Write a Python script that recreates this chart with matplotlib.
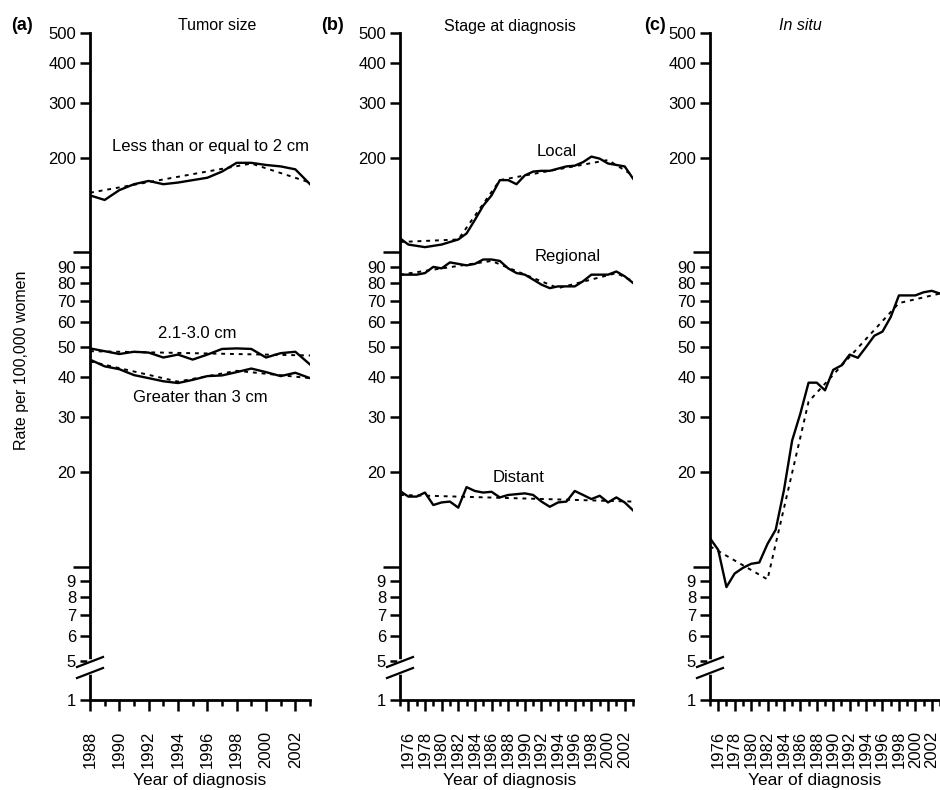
import numpy as np
import matplotlib
matplotlib.use('Agg')
import matplotlib.pyplot as plt
from matplotlib.lines import Line2D

plt.rcParams['font.family'] = ['Liberation Sans', 'DejaVu Sans']

W, H = 940, 790

# ---- data ----
years_a = list(range(1988, 2004))
le2cm = [152, 147, 158, 165, 169, 165, 167, 170, 173, 181, 193, 193, 190, 188, 184, 165]
cm21_30 = [49.5, 48.5, 47.5, 48.3, 48.0, 46.3, 47.3, 45.6, 47.3, 49.3, 49.5, 49.3, 46.3, 47.8, 48.3, 44.0]
gt3cm = [45.6, 43.4, 42.5, 40.7, 39.8, 38.9, 38.4, 39.3, 40.4, 40.6, 41.6, 42.7, 41.6, 40.4, 41.4, 39.8]
fit_le2_x, fit_le2_y = [1988, 1999, 2003], [155, 192, 167]
fit_21_x, fit_21_y = [1988, 2003], [48.5, 47.0]
fit_gt3_x, fit_gt3_y = [1988, 1994, 1998, 2003], [45.0, 38.8, 42.0, 39.8]

years_b = list(range(1975, 2004))
local = [111, 106, 105, 104, 105, 106, 108, 110, 115, 127, 141, 152, 170, 170, 165, 176,
         181, 182, 182, 185, 188, 189, 194, 202, 199, 192, 190, 188, 172]
regional = [85, 85, 85, 86, 90, 89, 93, 92, 91, 92, 95, 95, 94, 89, 86, 85,
            82, 79, 77, 78, 78, 78, 81, 85, 85, 85, 87, 84, 80]
distant = [17.4, 16.7, 16.7, 17.2, 15.7, 16.0, 16.1, 15.4, 17.9, 17.4, 17.2, 17.3, 16.6, 16.9, 17.0,
           17.1, 16.9, 16.1, 15.5, 16.0, 16.1, 17.4, 16.9, 16.4, 16.8, 16.0, 16.6, 16.0, 15.1]
fit_loc_x, fit_loc_y = [1975, 1982, 1987, 2000, 2003], [108, 110, 170, 197, 176]
fit_reg_x, fit_reg_y = [1975, 1986, 1994, 2001, 2003], [85, 94, 77, 86, 81]
fit_dis_x, fit_dis_y = [1975, 2003], [16.9, 16.1]

years_c = list(range(1975, 2004))
insitu = [12.3, 11.3, 8.6, 9.5, 9.9, 10.2, 10.3, 11.8, 13.1, 17.5, 25.2, 30.7, 38.5, 38.5, 36.4,
          42.3, 43.7, 47.3, 46.2, 50.0, 54.3, 56.0, 62.3, 73.0, 73.0, 73.0, 74.7, 75.5, 74.0]
fit_ins_x, fit_ins_y = [1975, 1982, 1987, 1998, 2003], [11.6, 9.1, 33.5, 69, 74]

ytick_vals = [1, 5, 6, 7, 8, 9, 20, 30, 40, 50, 60, 70, 80, 90, 200, 300, 400, 500]


# broken scale: log above 5, short linear stretch from 5 down to 1
def fwd(v):
    v = np.asarray(v, dtype=float)
    vv = np.clip(v, 1e-3, None)
    return np.where(v >= 5, np.log10(vv), np.log10(5) - 0.124 * (5 - v) / 4)


def inv(u):
    u = np.asarray(u, dtype=float)
    lo = np.log10(5)
    return np.where(u >= lo, 10 ** u, 5 - (lo - u) * 4 / 0.124)


def fx(px):
    return px / W


def fy(py):
    return 1 - py / H


fig = plt.figure(figsize=(W / 100, H / 100), dpi=100)

bottom, top = 700, 33
panels = [(90, 310, (1988, 2003)), (400, 633, (1975, 2003)), (710, 940, (1975, 2003))]
axes = []
for left, right, xl in panels:
    ax = fig.add_axes([fx(left), fy(bottom), (right - left) / W, (bottom - top) / H])
    ax.set_yscale('function', functions=(fwd, inv))
    ax.set_ylim(1, 500)
    ax.set_xlim(*xl)
    for s in ['top', 'right']:
        ax.spines[s].set_visible(False)
    for s in ['left', 'bottom']:
        ax.spines[s].set_linewidth(2)
    ax.set_yticks(ytick_vals)
    ax.set_yticklabels([str(v) for v in ytick_vals])
    ax.set_yticks([10, 100], minor=True)
    ax.set_yticklabels(['', ''], minor=True)
    ax.tick_params(axis='y', which='major', direction='out', length=7, width=1.8, labelsize=12, pad=3)
    ax.tick_params(axis='y', which='minor', direction='out', length=12, width=1.8)
    start = xl[0] + (xl[0] % 2)
    ax.set_xticks(list(range(start, xl[1] + 1, 2)))
    ax.set_xticklabels([str(y) for y in range(start, xl[1] + 1, 2)], rotation=90)
    ax.set_xticks([y for y in range(xl[0], xl[1] + 1) if y % 2 == 1], minor=True)
    ax.tick_params(axis='x', which='major', direction='out', length=8, width=1.8, labelsize=12, pad=14)
    ax.tick_params(axis='x', which='minor', direction='out', length=4, width=1.8)
    axes.append(ax)

    # break marks on the y axis
    fig.add_artist(Line2D([fx(left), fx(left)], [fy(662), fy(672)], color='white', lw=4,
                          transform=fig.transFigure, zorder=10))
    for yb in (662, 673):
        fig.add_artist(Line2D([fx(left - 13), fx(left + 13)], [fy(yb + 5), fy(yb - 5)],
                              color='black', lw=1.6, transform=fig.transFigure, zorder=11))

solid = dict(color='black', lw=1.7)
dot = dict(color='black', lw=1.4, dashes=(2, 2.5))

ax = axes[0]
ax.plot(years_a, le2cm, **solid)
ax.plot(years_a, cm21_30, **solid)
ax.plot(years_a, gt3cm, **solid)
ax.plot(fit_le2_x, fit_le2_y, **dot)
ax.plot(fit_21_x, fit_21_y, **dot)
ax.plot(fit_gt3_x, fit_gt3_y, **dot)

ax = axes[1]
ax.plot(years_b, local, **solid)
ax.plot(years_b, regional, **solid)
ax.plot(years_b, distant, **solid)
ax.plot(fit_loc_x, fit_loc_y, **dot)
ax.plot(fit_reg_x, fit_reg_y, **dot)
ax.plot(fit_dis_x, fit_dis_y, **dot)

ax = axes[2]
ax.plot(years_c, insitu, **solid)
ax.plot(fit_ins_x, fit_ins_y, **dot)

# text
fs = 12
fig.text(fx(210), fy(147), 'Less than or equal to 2 cm', ha='center', va='center', fontsize=fs)
fig.text(fx(197), fy(334), '2.1-3.0 cm', ha='center', va='center', fontsize=fs)
fig.text(fx(200), fy(397), 'Greater than 3 cm', ha='center', va='center', fontsize=fs)
fig.text(fx(557), fy(151), 'Local', ha='center', va='center', fontsize=fs)
fig.text(fx(568), fy(257), 'Regional', ha='center', va='center', fontsize=fs)
fig.text(fx(519), fy(477), 'Distant', ha='center', va='center', fontsize=fs)

fig.text(fx(217), fy(26), 'Tumor size', ha='center', va='center', fontsize=11.5)
fig.text(fx(510), fy(26), 'Stage at diagnosis', ha='center', va='center', fontsize=11.5)
fig.text(fx(800), fy(26), 'In situ', ha='center', va='center', fontsize=11.5, style='italic')
fig.text(fx(22), fy(25), '(a)', ha='center', va='center', fontsize=13, weight='bold')
fig.text(fx(333), fy(25), '(b)', ha='center', va='center', fontsize=13, weight='bold')
fig.text(fx(655), fy(25), '(c)', ha='center', va='center', fontsize=13, weight='bold')

fig.text(fx(22), fy(360), 'Rate per 100,000 women', rotation=90, ha='center', va='center', fontsize=11.5)
for cx in (200, 510, 815):
    fig.text(fx(cx), fy(780), 'Year of diagnosis', ha='center', va='center', fontsize=12.5)

fig.savefig('out.png', dpi=100)
